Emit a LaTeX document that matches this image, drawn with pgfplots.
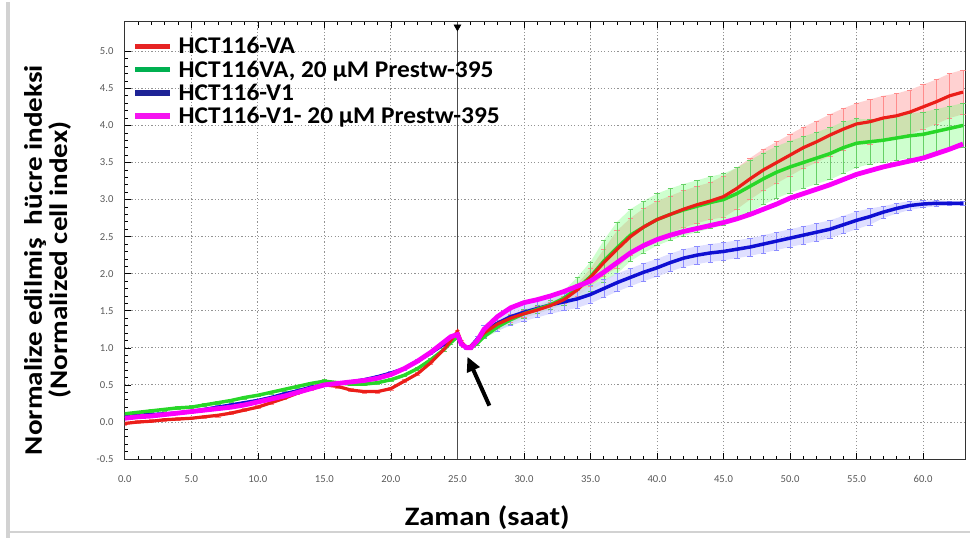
\documentclass[border=0pt]{standalone}
\usepackage{pgfplots}
\pgfplotsset{compat=1.18}
\usepackage{pgfplotstable}
\usepgfplotslibrary{fillbetween}
\usetikzlibrary{arrows.meta}
\usepackage{fontspec}
\setmainfont{Carlito}
\newfontfamily\widefont[FakeStretch=1.15]{Carlito}
\newfontfamily\legfont[FakeStretch=1.06]{Carlito}

\definecolor{cRed}{RGB}{235,30,25}
\definecolor{cGreen}{RGB}{40,215,40}
\definecolor{cBlue}{RGB}{15,15,210}
\definecolor{cMag}{RGB}{250,0,250}
\definecolor{lRed}{RGB}{230,35,35}
\definecolor{lGreen}{RGB}{0,176,80}
\definecolor{lBlue}{RGB}{30,35,150}
\definecolor{lMag}{RGB}{245,20,240}

\pgfplotstableread{
x y e
0 -0.02 0.02
1 0.0 0.02
2 0.01 0.02
3 0.03 0.02
4 0.04 0.02
5 0.05 0.02
6 0.07 0.02
7 0.09 0.02
8 0.12 0.02
9 0.16 0.02
10 0.20 0.02
11 0.26 0.02
12 0.32 0.02
13 0.39 0.02
14 0.45 0.02
15 0.50 0.02
16 0.48 0.02
17 0.43 0.02
18 0.41 0.02
19 0.41 0.02
20 0.45 0.02
21 0.55 0.02
22 0.65 0.02
23 0.80 0.02
24 0.98 0.02
24.5 1.10 0.02
25 1.22 0.02
25.3 1.08 0.02
25.7 1.00 0.02
26 1.02 0.02
26.5 1.10 0.02
27 1.20 0.02
28 1.32 0.05
29 1.40 0.05
30 1.46 0.05
31 1.51 0.05
32 1.57 0.05
33 1.65 0.05
34 1.78 0.08
35 1.95 0.12
36 2.15 0.18
37 2.33 0.25
38 2.50 0.25
39 2.63 0.25
40 2.73 0.25
41 2.80 0.25
42 2.87 0.25
43 2.93 0.25
44 2.98 0.25
45 3.04 0.28
46 3.15 0.28
47 3.28 0.28
48 3.40 0.28
49 3.50 0.28
50 3.60 0.28
51 3.70 0.28
52 3.78 0.28
53 3.87 0.28
54 3.95 0.28
55 4.02 0.28
56 4.05 0.30
57 4.10 0.30
58 4.13 0.30
59 4.18 0.30
60 4.25 0.30
61 4.32 0.30
62 4.40 0.30
63 4.45 0.30
}\tRed

\pgfplotstableread{
x y e
0 0.11 0.02
1 0.13 0.02
2 0.15 0.02
3 0.17 0.02
4 0.19 0.02
5 0.20 0.02
6 0.23 0.02
7 0.26 0.02
8 0.29 0.02
9 0.33 0.02
10 0.36 0.02
11 0.40 0.02
12 0.44 0.02
13 0.48 0.02
14 0.52 0.02
15 0.55 0.02
16 0.53 0.02
17 0.51 0.02
18 0.51 0.02
19 0.53 0.02
20 0.57 0.02
21 0.63 0.02
22 0.72 0.02
23 0.84 0.02
24 0.98 0.02
24.5 1.07 0.02
25 1.15 0.02
25.3 1.06 0.02
25.7 1.00 0.02
26 1.00 0.02
26.5 1.06 0.02
27 1.15 0.02
28 1.28 0.06
29 1.38 0.06
30 1.46 0.06
31 1.52 0.06
32 1.58 0.06
33 1.67 0.10
34 1.80 0.15
35 1.96 0.20
36 2.17 0.28
37 2.35 0.35
38 2.52 0.35
39 2.63 0.35
40 2.73 0.35
41 2.80 0.35
42 2.86 0.35
43 2.91 0.35
44 2.96 0.35
45 3.00 0.35
46 3.08 0.35
47 3.18 0.35
48 3.28 0.35
49 3.37 0.35
50 3.44 0.35
51 3.50 0.35
52 3.56 0.35
53 3.62 0.35
54 3.70 0.35
55 3.76 0.33
56 3.78 0.30
57 3.80 0.30
58 3.83 0.30
59 3.86 0.30
60 3.88 0.30
61 3.92 0.30
62 3.96 0.30
63 4.00 0.30
}\tGreen

\pgfplotstableread{
x y e
0 0.08 0.02
1 0.09 0.02
2 0.10 0.02
3 0.11 0.02
4 0.12 0.02
5 0.14 0.02
6 0.17 0.02
7 0.20 0.02
8 0.23 0.02
9 0.26 0.02
10 0.29 0.02
11 0.33 0.02
12 0.38 0.02
13 0.42 0.02
14 0.47 0.02
15 0.50 0.02
16 0.52 0.02
17 0.54 0.02
18 0.57 0.02
19 0.61 0.02
20 0.66 0.02
21 0.72 0.02
22 0.82 0.02
23 0.93 0.02
24 1.05 0.02
24.5 1.10 0.02
25 1.15 0.02
25.3 1.05 0.02
25.7 1.00 0.02
26 1.02 0.02
26.5 1.12 0.04
27 1.22 0.08
28 1.33 0.10
29 1.42 0.12
30 1.48 0.12
31 1.53 0.12
32 1.58 0.12
33 1.62 0.12
34 1.66 0.12
35 1.72 0.12
36 1.80 0.12
37 1.88 0.12
38 1.95 0.12
39 2.02 0.12
40 2.08 0.12
41 2.15 0.12
42 2.21 0.12
43 2.25 0.12
44 2.28 0.12
45 2.30 0.12
46 2.33 0.12
47 2.36 0.12
48 2.40 0.12
49 2.44 0.12
50 2.48 0.12
51 2.52 0.12
52 2.56 0.12
53 2.60 0.12
54 2.66 0.12
55 2.72 0.12
56 2.77 0.11
57 2.83 0.08
58 2.88 0.07
59 2.92 0.06
60 2.94 0.05
61 2.95 0.04
62 2.95 0.03
63 2.95 0.03
}\tBlue

\pgfplotstableread{
x y
0 0.05
1 0.07
2 0.08
3 0.10
4 0.12
5 0.14
6 0.16
7 0.18
8 0.20
9 0.23
10 0.27
11 0.31
12 0.35
13 0.40
14 0.45
15 0.50
16 0.52
17 0.54
18 0.56
19 0.59
20 0.64
21 0.72
22 0.82
23 0.94
24 1.08
24.5 1.15
25 1.18
25.3 1.05
25.7 1.00
26 1.00
26.5 1.10
27 1.25
28 1.42
29 1.54
30 1.61
31 1.65
32 1.70
33 1.76
34 1.83
35 1.90
36 2.02
37 2.15
38 2.28
39 2.38
40 2.46
41 2.52
42 2.57
43 2.61
44 2.65
45 2.69
46 2.74
47 2.80
48 2.87
49 2.94
50 3.02
51 3.08
52 3.14
53 3.20
54 3.27
55 3.34
56 3.39
57 3.44
58 3.48
59 3.52
60 3.56
61 3.62
62 3.68
63 3.75
}\tMag

\begin{document}
\begin{tikzpicture}
\path (0,0) rectangle (728.25pt,402.75pt);
\draw[gray!35, line width=2.5pt] (6pt,0) -- (6pt,402.75pt);
\draw[gray!35, line width=2pt] (6pt,4.5pt) -- (728.25pt,4.5pt);
\begin{axis}[
  at={(93.75pt,59.25pt)}, anchor=south west,
  scale only axis, width=631.5pt, height=328.5pt,
  xmin=0, xmax=63.2, ymin=-0.5, ymax=5.4,
  xtick={0,5,...,60}, ytick={-0.5,0,...,5.0},
  minor x tick num=4, minor y tick num=4,
  tick align=inside, xtick pos=both, ytick pos=left,
  major tick length=4.5pt, minor tick length=2.5pt,
  every tick/.style={black, line width=0.5pt},
  axis line style={black!80, line width=0.8pt},
  grid=major,
  major grid style={gray!85, line width=0.7pt, dash pattern=on 0.9pt off 1.6pt},
  xticklabel={\pgfmathprintnumber[fixed,fixed zerofill,precision=1,assume math mode=true]{\tick}},
  yticklabel={\pgfmathprintnumber[fixed,fixed zerofill,precision=1,assume math mode=true]{\tick}},
  ticklabel style={font=\fontsize{8}{9}\selectfont, text=black!65},
  xticklabel style={yshift=-9pt},
  yticklabel style={xshift=-5pt},
  xlabel={Zaman (saat)},
  xlabel style={at={(axis description cs:0.431,-0.135)}, anchor=center, font=\widefont\fontsize{20}{22}\selectfont\bfseries},
  ylabel={Normalize edilmiş\ \ hücre indeksi\\(Normalized cell index)},
  ylabel style={at={(axis description cs:-0.092,0.455)}, anchor=center, align=center, font=\widefont\fontsize{19}{19}\selectfont\bfseries},
  legend style={at={(axis description cs:0.004,0.975)}, anchor=north west, draw=none, fill=none,
    font=\legfont\fontsize{18}{19}\selectfont\bfseries, row sep=0.6pt,
    nodes={inner sep=1.5pt}},
  legend cell align=left,
  legend image code/.code={\draw[#1, line width=4pt] (0pt,0pt) -- (26pt,0pt); \path (31pt,0pt);},
]
% error bands
\addplot[draw=none, name path=rU, forget plot] table[x=x, y expr=\thisrow{y}+\thisrow{e}] {\tRed};
\addplot[draw=none, name path=rL, forget plot] table[x=x, y expr=\thisrow{y}-\thisrow{e}] {\tRed};
\addplot[fill=red!18, forget plot] fill between[of=rU and rL];
\addplot[draw=none, forget plot, error bars/.cd, y dir=both, y explicit, error bar style={red!45, line width=0.4pt}] table[x=x, y=y, y error=e] {\tRed};
\addplot[draw=none, name path=gU, forget plot] table[x=x, y expr=\thisrow{y}+\thisrow{e}] {\tGreen};
\addplot[draw=none, name path=gL, forget plot] table[x=x, y expr=\thisrow{y}-\thisrow{e}] {\tGreen};
\addplot[fill=green!55!white, fill opacity=0.35, forget plot] fill between[of=gU and gL];
\addplot[draw=none, forget plot, error bars/.cd, y dir=both, y explicit, error bar style={green!70!black!60, line width=0.4pt}] table[x=x, y=y, y error=e] {\tGreen};
\addplot[draw=none, name path=bU, forget plot] table[x=x, y expr=\thisrow{y}+\thisrow{e}] {\tBlue};
\addplot[draw=none, name path=bL, forget plot] table[x=x, y expr=\thisrow{y}-\thisrow{e}] {\tBlue};
\addplot[fill=blue!18, fill opacity=0.7, forget plot] fill between[of=bU and bL];
\addplot[draw=none, forget plot, error bars/.cd, y dir=both, y explicit, error bar style={blue!45, line width=0.4pt}] table[x=x, y=y, y error=e] {\tBlue};
% vertical event line
\draw[black!70, line width=1.1pt] (axis cs:25,-0.5) -- (axis cs:25,5.4);
% main curves
\addplot[cBlue, line width=2.6pt, forget plot] table[x=x, y=y] {\tBlue};
\addplot[cGreen, line width=2.6pt, forget plot] table[x=x, y=y] {\tGreen};
\addplot[cRed, line width=2.4pt, forget plot] table[x=x, y=y] {\tRed};
\addplot[cMag, line width=3.6pt, forget plot] table[x=x, y=y] {\tMag};
% event marker at top
\addplot[only marks, mark=triangle*, mark size=3pt, mark options={black, rotate=180}, forget plot] coordinates {(25,5.33)};
% arrow
\draw[-{Triangle[length=11pt, width=10pt]}, line width=3pt, black] (axis cs:27.4,0.22) -- (axis cs:25.75,0.88);
% legend
\addlegendimage{lRed}\addlegendentry{HCT116-VA}
\addlegendimage{lGreen}\addlegendentry{HCT116VA, 20 µM Prestw-395}
\addlegendimage{lBlue}\addlegendentry{HCT116-V1}
\addlegendimage{lMag}\addlegendentry{HCT116-V1- 20 µM Prestw-395}
\end{axis}
\end{tikzpicture}
\end{document}
